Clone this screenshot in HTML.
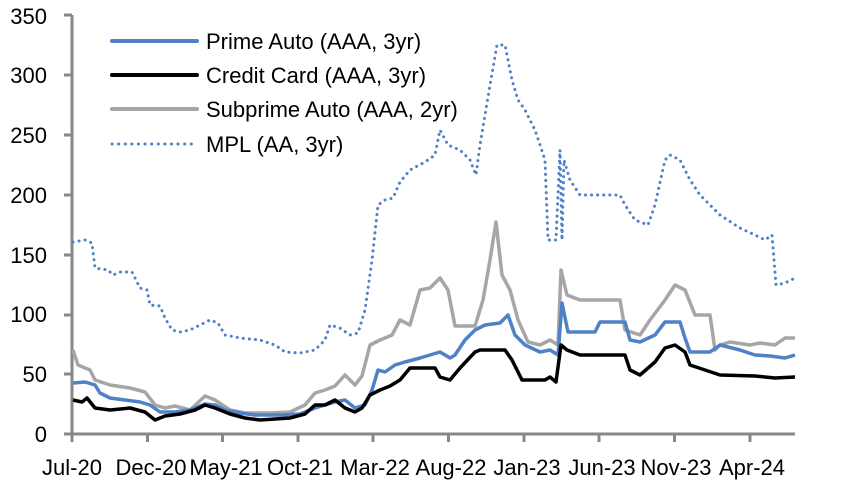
<!DOCTYPE html>
<html><head><style>body{margin:0;background:#fff}svg{display:block}text{font-family:"Liberation Sans",sans-serif;font-size:22px;fill:#000}</style></head><body>
<svg width="852" height="486" viewBox="0 0 852 486">
<g stroke="#888" stroke-width="3" fill="none">
<line x1="72" y1="15" x2="72" y2="435"/>
<line x1="64" y1="434" x2="795" y2="434"/>
<path d="M64 15H72M64 75H72M64 135H72M64 195H72M64 255H72M64 315H72M64 374H72"/>
<path d="M72 434V442M147.5 434V442M222.5 434V442M298 434V442M373 434V442M448.5 434V442M524 434V442M599 434V442M674.5 434V442M750 434V442"/>
</g>
<g text-anchor="end">
<text x="47" y="442">0</text><text x="47" y="382">50</text><text x="47" y="322">100</text><text x="47" y="263">150</text><text x="47" y="203">200</text><text x="47" y="143">250</text><text x="47" y="83">300</text><text x="47" y="24">350</text></g>
<g text-anchor="middle">
<text x="72" y="475">Jul-20</text><text x="151" y="475">Dec-20</text><text x="226" y="475">May-21</text><text x="300" y="475">Oct-21</text><text x="375" y="475">Mar-22</text><text x="451" y="475">Aug-22</text><text x="527" y="475">Jan-23</text><text x="602" y="475">Jun-23</text><text x="676" y="475">Nov-23</text><text x="752" y="475">Apr-24</text></g>
<g fill="none" stroke-linejoin="round">
<polyline stroke="#4f81c7" stroke-width="3" stroke-dasharray="0.1 6" stroke-linecap="round" points="73,242 85,240 92,243 95,268 108,270 113,275 120,272 132,272 140,288 147,290 150,305 160,306 165,318 172,330 180,332 190,330 200,325 210,320 218,323 225,335 240,338 260,340 275,345 285,352 300,353 315,350 325,340 330,325 340,328 350,335 358,333 365,310 372,260 378,205 385,200 393,198 400,182 410,170 425,162 435,155 440,130 448,145 460,150 470,160 476,175 480,145 490,85 497,45 505,45 512,80 518,100 525,110 535,130 545,160 548,240 556,240 560,150 562,240 564,160 570,180 580,195 620,195 625,205 635,220 648,225 655,205 665,160 670,155 680,160 690,180 700,195 710,205 720,215 740,228 755,235 765,240 772,235 776,285 785,283 795,278"/>
<polyline stroke="#a6a6a6" stroke-width="3.5" points="73,350 78,365 90,370 95,380 110,385 130,388 145,392 155,405 165,408 175,406 190,410 205,396 215,400 230,410 245,413 270,413 290,412 305,405 315,393 325,390 335,386 345,375 355,385 362,376 370,345 380,340 392,335 400,320 410,325 420,290 430,288 440,278 448,290 455,326 475,326 483,300 490,260 496,222 502,275 510,290 518,320 528,342 540,345 550,340 558,345 561,270 567,295 580,300 620,300 625,330 640,335 650,320 665,300 675,285 685,290 695,315 710,315 715,350 720,345 730,342 750,345 760,343 775,345 785,338 795,338"/>
<polyline stroke="#4f81c7" stroke-width="3.5" points="73,383 85,382 95,385 100,393 110,398 125,400 140,402 150,405 160,412 175,412 190,410 205,404 215,405 225,410 240,413 255,415 280,415 300,414 315,408 325,405 335,402 345,400 355,408 365,405 372,390 378,370 385,372 395,365 405,362 420,358 430,355 440,352 450,358 455,355 465,340 475,330 485,325 500,323 508,315 515,335 525,345 540,352 550,350 558,355 562,303 568,332 595,332 600,322 625,322 630,340 640,342 655,335 665,322 680,322 685,338 690,352 710,352 720,345 740,350 755,355 770,356 785,358 795,355"/>
<polyline stroke="#000" stroke-width="3.5" points="73,400 82,402 87,398 95,408 110,410 130,408 145,412 155,420 165,416 180,414 195,410 205,405 215,408 230,414 245,418 260,420 275,419 290,418 305,414 315,405 325,405 335,400 345,408 355,412 362,408 370,395 380,390 390,386 400,380 410,368 420,368 435,368 440,377 450,380 460,368 475,352 480,350 505,350 512,360 522,380 545,380 550,377 556,382 561,345 567,350 580,355 625,355 630,370 640,375 655,362 665,348 675,345 685,352 690,365 705,370 720,375 755,376 765,377 775,378 795,377"/>
</g>
<g stroke-width="4" stroke-linecap="round">
<line x1="112" y1="41" x2="197" y2="41" stroke="#4f81c7"/>
<line x1="112" y1="75" x2="197" y2="75" stroke="#000"/>
<line x1="112" y1="109" x2="197" y2="109" stroke="#a6a6a6"/>
<line x1="112" y1="144" x2="197" y2="144" stroke="#4f81c7" stroke-width="3" stroke-dasharray="0.1 6.5"/>
</g>
<text x="206" y="49">Prime Auto (AAA, 3yr)</text>
<text x="206" y="83">Credit Card (AAA, 3yr)</text>
<text x="206" y="117">Subprime Auto (AAA, 2yr)</text>
<text x="206" y="152">MPL (AA, 3yr)</text>
</svg></body></html>
